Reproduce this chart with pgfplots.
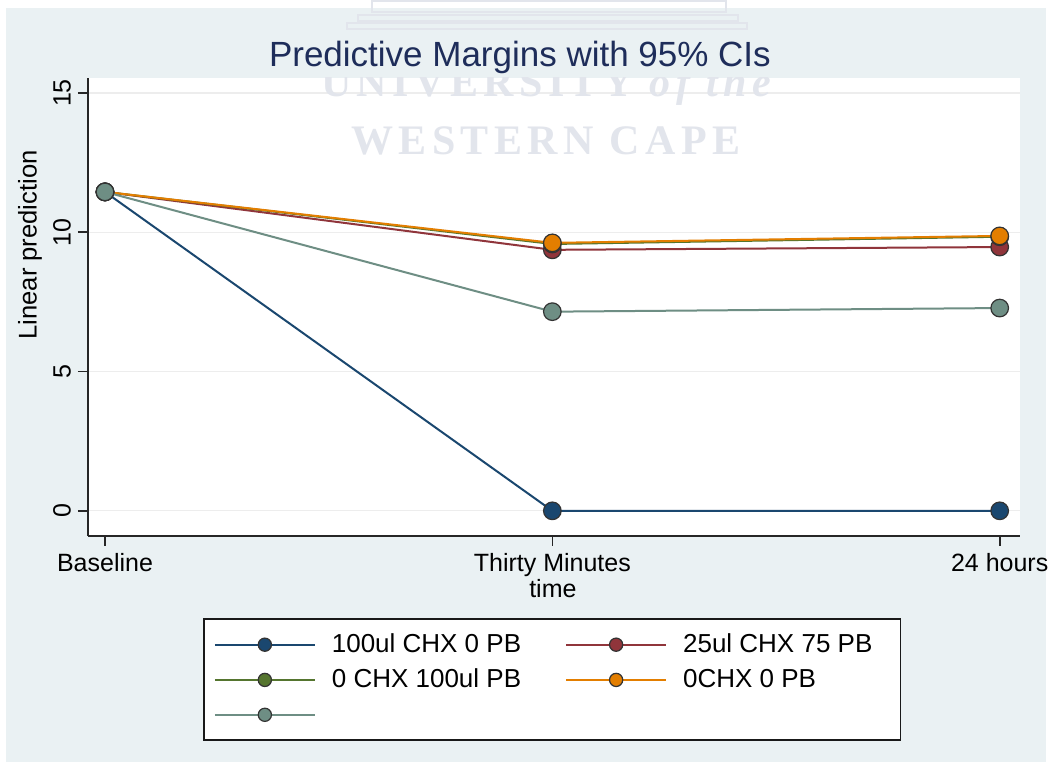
\documentclass[border=0pt]{standalone}
\usepackage{fontspec}
\setmainfont{Liberation Sans}
\newfontfamily\wmfont[LetterSpace=13]{Liberation Serif}
\usepackage{pgfplots}
\pgfplotsset{compat=1.18}
\definecolor{sbg}{RGB}{234,241,243}
\definecolor{cnavy}{RGB}{26,71,111}
\definecolor{cmaroon}{RGB}{144,53,59}
\definecolor{cgreen}{RGB}{85,117,47}
\definecolor{corange}{RGB}{227,126,0}
\definecolor{cteal}{RGB}{110,142,132}
\definecolor{ctitle}{RGB}{30,45,90}
\definecolor{wm}{RGB}{226,229,236}
\begin{document}
\begin{tikzpicture}[x=0.5pt,y=0.5pt]
\fill[white] (0,0) rectangle (1055,769);
\fill[sbg] (6,7) rectangle (1046,761);
\begin{axis}[
  at={(44pt,116.5pt)}, anchor=south west,
  scale only axis, width=466pt, height=229pt,
  xmin=-0.038, xmax=2.045, ymin=-0.9, ymax=15.54,
  axis background/.style={fill=white},
  axis x line*=bottom, axis y line*=left,
  axis line style={-, line width=1pt, black!85},
  xtick={0,1,2}, xticklabels={Baseline,Thirty Minutes,24 hours},
  ytick={0,5,10,15},
  yticklabel style={rotate=90, anchor=south},
  /pgf/number format/assume math mode=true,
  tick align=outside, major tick length=5pt,
  tick style={line width=0.8pt, black!85},
  ymajorgrids, grid style={line width=0.6pt, black!7},
  ticklabel style={font=\fontsize{12.5}{14}\selectfont},
  legend image code/.code={\draw[mark repeat=2,mark phase=2,mark size=3.3pt] plot coordinates {(0pt,0pt)(25pt,0pt)(50pt,0pt)};},
  legend style={at={(0.1234,-0.179)}, anchor=north west, draw=black!90, line width=0.9pt, fill=white,
    font=\fontsize{13}{15}\selectfont, inner xsep=5pt, inner ysep=5.5pt, row sep=2.7pt,
    /tikz/every odd column/.append style={column sep=6pt},
    /tikz/every even column/.append style={column sep=20pt}},
  legend columns=2, legend cell align=left,
]
\addplot[color=cnavy, line width=1pt, mark=*, mark size=4.4pt, mark options={fill=cnavy, draw=black!80, line width=0.6pt}]
  coordinates {(0,11.45) (1,0) (2,0)};
\addlegendentry{100ul CHX 0 PB}
\addplot[color=cmaroon, line width=1pt, mark=*, mark size=4.4pt, mark options={fill=cmaroon, draw=black!80, line width=0.6pt}]
  coordinates {(0,11.45) (1,9.37) (2,9.47)};
\addlegendentry{25ul CHX 75 PB\kern7pt\rule{0pt}{1pt}}
\addplot[color=cgreen, line width=1pt, mark=*, mark size=4.4pt, mark options={fill=cgreen, draw=black!80, line width=0.6pt}]
  coordinates {(0,11.45) (1,9.58) (2,9.84)};
\addlegendentry{0 CHX 100ul PB}
\addplot[color=corange, line width=1pt, mark=*, mark size=4.4pt, mark options={fill=corange, draw=black!80, line width=0.6pt}]
  coordinates {(0,11.45) (1,9.62) (2,9.87)};
\addlegendentry{0CHX 0 PB}
\addplot[color=cteal, line width=1pt, mark=*, mark size=4.4pt, mark options={fill=cteal, draw=black!80, line width=0.6pt}]
  coordinates {(0,11.45) (1,7.15) (2,7.28)};
\addlegendentry{\phantom{0CHX}}
\end{axis}
% faint watermark of the scanned thesis page
\draw[wm, line width=1pt] (372,757) rectangle (726,768);
\draw[wm, line width=1pt] (358,748) rectangle (738,754);
\draw[wm, line width=1pt] (347,740) rectangle (747,746);
\begin{scope}
\clip (89,234) rectangle (1019,691);
\node[text=wm, font=\wmfont\bfseries\fontsize{21}{24}\selectfont, anchor=base] at (546,672) {UNIVERSITY {\itshape of the}};
\node[text=wm, font=\wmfont\bfseries\fontsize{21}{24}\selectfont, anchor=base] at (546,614) {WESTERN CAPE};
\end{scope}
\node[text=ctitle, font=\fontsize{17.5}{20}\selectfont] at (520,712) {Predictive Margins with 95\% CIs};
\node[rotate=90, font=\fontsize{12.8}{14}\selectfont] at (30,524) {Linear prediction};
\node[font=\fontsize{12.5}{14}\selectfont] at (553,180) {time};
\end{tikzpicture}
\end{document}
